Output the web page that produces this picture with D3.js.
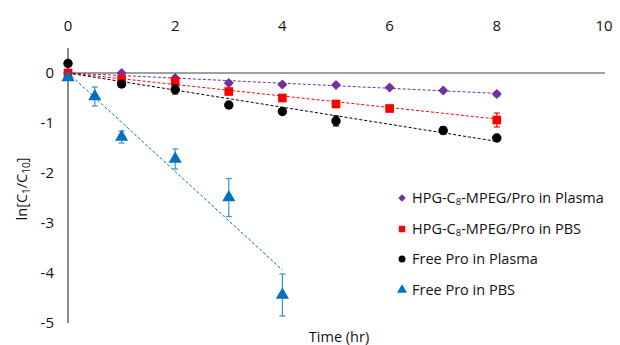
<!DOCTYPE html>
<html>
<head>
<meta charset="utf-8">
<script src="https://cdn.jsdelivr.net/npm/d3@7"></script>
<style>
  body { margin: 0; background: #fff; }
  text { font-family: "Open Sans", "Noto Sans", sans-serif; fill: #111; }
</style>
</head>
<body>
<div id="chart"></div>
<script>
(function(){
	var width = 620, height = 345;

	// data
	var seriesNames = ["HPG-C8-MPEG/Pro in Plasma", "HPG-C8-MPEG/Pro in PBS", "Free Pro in Plasma", "Free Pro in PBS"];
	var hpgPlasmaT = [0, 1, 2, 3, 4, 5, 6, 7, 8];
	var hpgPlasmaY = [0, 0, -0.1, -0.2, -0.23, -0.24, -0.29, -0.35, -0.42];
	var hpgPlasmaErr = [0, 0.02, 0.03, 0.04, 0.03, 0.03, 0.03, 0.03, 0.04];
	var hpgPbsT = [0, 1, 2, 3, 4, 5, 6, 8];
	var hpgPbsY = [0, -0.12, -0.17, -0.37, -0.5, -0.62, -0.71, -0.94];
	var hpgPbsErr = [0.03, 0.04, 0.05, 0.06, 0.03, 0.04, 0.03, 0.14];
	var freePlasmaT = [0, 1, 2, 3, 4, 5, 7, 8];
	var freePlasmaY = [0.19, -0.22, -0.33, -0.64, -0.77, -0.96, -1.15, -1.3];
	var freePlasmaErr = [0.03, 0.05, 0.09, 0.04, 0.03, 0.1, 0.07, 0.03];
	var freePbsT = [0, 0.5, 1, 2, 3, 4];
	var freePbsY = [-0.09, -0.47, -1.28, -1.72, -2.49, -4.44];
	var freePbsErr = [0.05, 0.19, 0.12, 0.2, 0.38, 0.42];
	var trendSlopes = [-0.051, -0.115, -0.171, -0.985];
	var trendEnds = [8, 8, 8, 4];
	var xTicks = [0, 2, 4, 6, 8, 10];
	var yTicks = [0, -1, -2, -3, -4, -5];

	var colors = ["#7030A0", "#FF0000", "#000000", "#0070C0"];
	var symbols = [d3.symbolSquare, d3.symbolSquare, d3.symbolCircle, d3.symbolTriangle];
	var symRot = [45, 0, 0, 0];
	var symSize = [50, 75, 70, 75];

	var series = [
		{t: hpgPlasmaT, y: hpgPlasmaY, e: hpgPlasmaErr},
		{t: hpgPbsT, y: hpgPbsY, e: hpgPbsErr},
		{t: freePlasmaT, y: freePlasmaY, e: freePlasmaErr},
		{t: freePbsT, y: freePbsY, e: freePbsErr}
	];

	var x = d3.scaleLinear().domain([0, 10]).range([68, 604]);
	var y = d3.scaleLinear().domain([-5, 0.5]).range([323, 48]);

	var svg = d3.select("#chart").append("svg")
		.attr("width", width)
		.attr("height", height);

	// axes: horizontal at y=0, vertical at x=0, labels only
	svg.append("line")
		.attr("x1", x(0)).attr("x2", x(10) + 1)
		.attr("y1", y(0)).attr("y2", y(0))
		.attr("stroke", "#404040").attr("stroke-width", 1.2);
	svg.append("line")
		.attr("x1", x(0)).attr("x2", x(0))
		.attr("y1", y(0.5)).attr("y2", y(-5))
		.attr("stroke", "#404040").attr("stroke-width", 1.2);

	svg.selectAll(".xt")
		.data(xTicks)
		.enter().append("text")
		.attr("class", "xt")
		.attr("x", function(d){ return x(d); })
		.attr("y", 31)
		.attr("text-anchor", "middle")
		.style("font-size", "15px")
		.text(function(d){ return d; });

	svg.selectAll(".yt")
		.data(yTicks)
		.enter().append("text")
		.attr("class", "yt")
		.attr("x", 54)
		.attr("y", function(d){ return y(d) + 5; })
		.attr("text-anchor", "end")
		.style("font-size", "15px")
		.text(function(d){ return d; });

	// axis titles
	svg.append("text")
		.attr("x", 339).attr("y", 342)
		.attr("text-anchor", "middle")
		.style("font-size", "14.5px")
		.text("Time (hr)");

	var yt = svg.append("text")
		.attr("transform", "translate(27,189) rotate(-90)")
		.attr("text-anchor", "middle")
		.style("font-size", "14.5px");
	yt.append("tspan").text("ln[C");
	yt.append("tspan").attr("dy", 3).style("font-size", "10px").text("1");
	yt.append("tspan").attr("dy", -3).text("/C");
	yt.append("tspan").attr("dy", 3).style("font-size", "10px").text("10");
	yt.append("tspan").attr("dy", -3).text("]");

	// trend lines
	svg.selectAll(".trend")
		.data(trendSlopes)
		.enter().append("line")
		.attr("class", "trend")
		.attr("x1", x(0)).attr("y1", y(0))
		.attr("x2", function(d, i){ return x(trendEnds[i]); })
		.attr("y2", function(d, i){ return y(d * trendEnds[i]); })
		.attr("stroke", function(d, i){ return colors[i]; })
		.attr("stroke-width", 1)
		.attr("stroke-dasharray", "3,2");

	// error bars and markers
	series.forEach(function(s, i){
		var g = svg.append("g");
		var pts = s.t.map(function(t, k){ return {t: t, y: s.y[k], e: s.e[k]}; });
		var eb = g.selectAll(".eb").data(pts).enter().append("g")
			.attr("stroke", colors[i] == "#0070C0" ? "#3d8fd1" : colors[i])
			.attr("stroke-width", 1.2);
		eb.append("line")
			.attr("x1", function(d){ return x(d.t); }).attr("x2", function(d){ return x(d.t); })
			.attr("y1", function(d){ return y(d.y + d.e); }).attr("y2", function(d){ return y(d.y - d.e); });
		eb.append("line")
			.attr("x1", function(d){ return x(d.t) - 3; }).attr("x2", function(d){ return x(d.t) + 3; })
			.attr("y1", function(d){ return y(d.y + d.e); }).attr("y2", function(d){ return y(d.y + d.e); });
		eb.append("line")
			.attr("x1", function(d){ return x(d.t) - 3; }).attr("x2", function(d){ return x(d.t) + 3; })
			.attr("y1", function(d){ return y(d.y - d.e); }).attr("y2", function(d){ return y(d.y - d.e); });

		g.selectAll(".pt").data(pts).enter().append("path")
			.attr("d", d3.symbol().type(symbols[i]).size(symSize[i]))
			.attr("transform", function(d){ return "translate(" + x(d.t) + "," + y(d.y) + ") rotate(" + symRot[i] + ")"; })
			.attr("fill", colors[i]);
	});

	// legend
	var legY = [198, 229, 259, 290];
	var leg = svg.selectAll(".leg")
		.data(seriesNames)
		.enter().append("g")
		.attr("transform", function(d, i){ return "translate(402," + legY[i] + ")"; });
	leg.append("path")
		.attr("d", function(d, i){ return d3.symbol().type(symbols[i]).size(symSize[i] * 0.55)(); })
		.attr("transform", function(d, i){ return "rotate(" + symRot[i] + ")"; })
		.attr("fill", function(d, i){ return colors[i]; });
	leg.each(function(d, i){
		var t = d3.select(this).append("text")
			.attr("x", 10).attr("y", 5)
			.style("font-size", "14.5px");
		if (i < 2) {
			t.append("tspan").text("HPG-C");
			t.append("tspan").attr("dy", 2).style("font-size", "9.5px").text("8");
			t.append("tspan").attr("dy", -2).text(d.replace("HPG-C8", ""));
		} else {
			t.text(d);
		}
	});
})();
</script>
</body>
</html>
